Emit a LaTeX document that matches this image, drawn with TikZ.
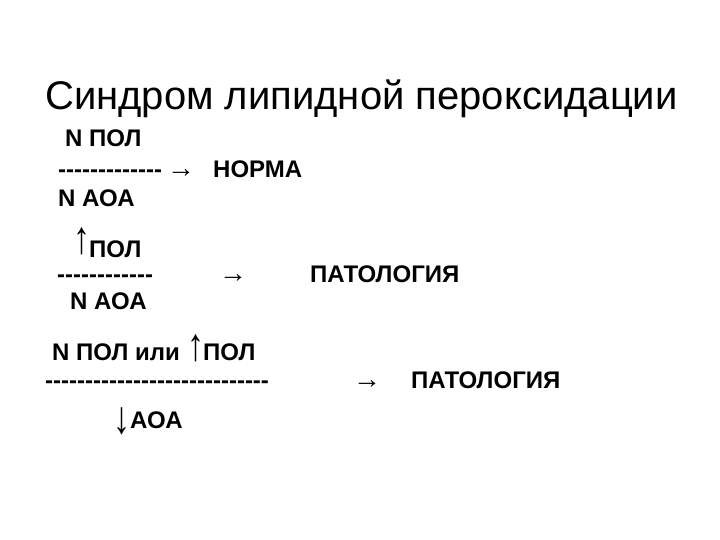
\documentclass[tikz,border=0pt]{standalone}
\usepackage{graphicx}
\usepackage{fontspec}
\setmainfont{Liberation Sans}[Ligatures=TeXOff]
\newfontfamily\arrfont{Liberation Serif}[Ligatures=TeXOff]
\newcommand{\tallarrow}[1]{\scalebox{1}[1.35]{#1}}
\begin{document}
\begin{tikzpicture}[x=1pt,y=-1pt,
  txt/.style={inner sep=0pt,anchor=base west,font=\bfseries\fontsize{24}{28}\selectfont},
  arr/.style={inner sep=0pt,anchor=base west,font=\arrfont\fontsize{28}{32}\selectfont},
  varr/.style={inner sep=0pt,anchor=base west,font=\arrfont\fontsize{34}{38}\selectfont}]
\useasboundingbox (0,0) rectangle (720,540);
\node[inner sep=0pt,anchor=base west,font=\fontsize{40}{46}\selectfont] (title) at (45,110) {Синдром липидной пероксидации};
% group 1
\node[txt] (g1num) at (65,147) {N ПОЛ};
\node[txt] (g1dash) at (58,178) {-------------};
\node[arr] (g1arr) at (167,178) {→};
\node[txt] (g1res) at (213,178) {НОРМА};
\node[txt] (g1den) at (58,207) {N АОА};
% group 2
\node[varr] (g2up) at (73,253) {\tallarrow{↑}};
\node[txt] (g2num) at (89,257) {ПОЛ};
\node[txt] (g2dash) at (57,282) {------------};
\node[arr] (g2arr) at (219,282) {→};
\node[txt] (g2res) at (310,282) {ПАТОЛОГИЯ};
\node[txt] (g2den) at (70,309) {N АОА};
% group 3
\node[txt] (g3num) at (52,360) {N ПОЛ или};
\node[varr] (g3up) at (187,360) {\tallarrow{↑}};
\node[txt] (g3num2) at (203,360) {ПОЛ};
\node[txt] (g3dash) at (45,388) {----------------------------};
\node[arr] (g3arr) at (353,388) {→};
\node[txt] (g3res) at (411,388) {ПАТОЛОГИЯ};
\node[varr] (g3down) at (113,433) {\tallarrow{↓}};
\node[txt] (g3den) at (130,428) {АОА};
\end{tikzpicture}
\end{document}
